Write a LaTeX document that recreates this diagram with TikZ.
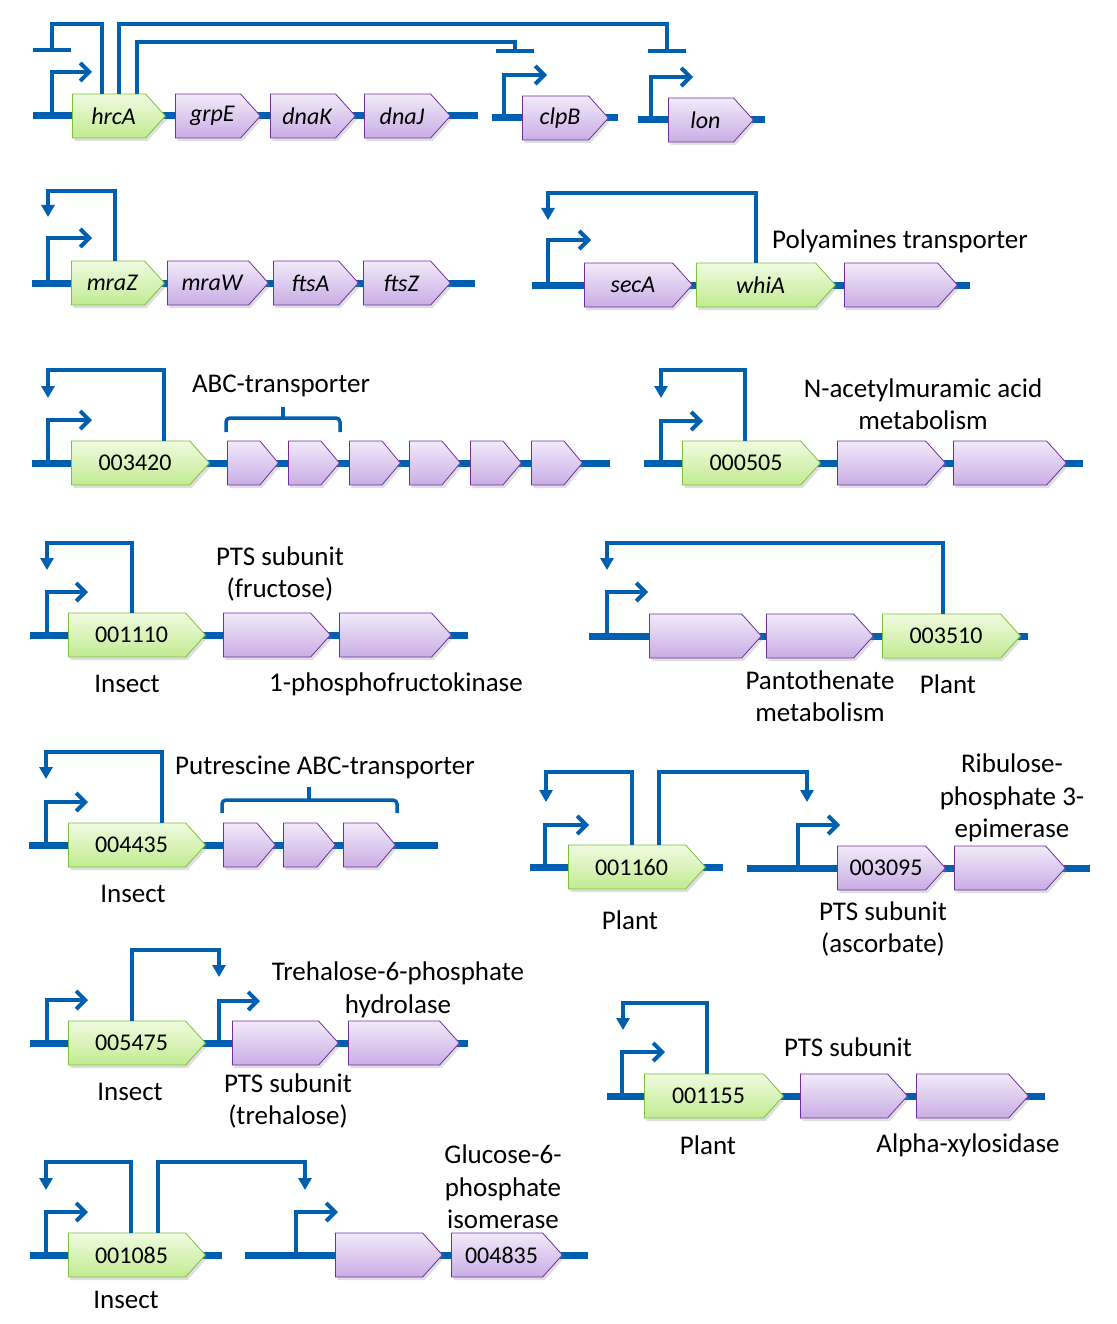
\documentclass[tikz,border=0pt]{standalone}
\usepackage{fontspec}
\setmainfont{Carlito}
\usetikzlibrary{arrows.meta,shapes.symbols,shadows,positioning}
\definecolor{genblue}{RGB}{0,96,175}
\definecolor{gline}{RGB}{125,192,60}
\definecolor{gtop}{RGB}{240,251,224}
\definecolor{gbot}{RGB}{192,235,145}
\definecolor{pline}{RGB}{112,48,160}
\definecolor{ptop}{RGB}{242,234,249}
\definecolor{pbot}{RGB}{201,173,228}
\newcommand{\gnfont}{\fontsize{24}{28}\selectfont}
\newcommand{\txfont}{\fontsize{27}{32.5}\selectfont}

\tikzset{
  dna/.style={line width=7pt, genblue},
  prom/.style={line width=4pt, genblue, -{Straight Barb[length=9pt,width=18pt]}},
  act/.style={line width=4pt, genblue, -{Triangle[length=12pt,width=13pt]}},
  repr/.style={line width=4pt, genblue, -{Bar[width=38pt]}},
  genebrace/.style={line width=3.5pt, genblue, rounded corners=4pt},
  gene/.style={signal, signal to=east, signal pointer angle=96, minimum height=44pt,
    inner sep=0pt, line width=0.8pt, anchor=west, font=\gnfont,
    execute at begin node={\hspace*{9pt}},
    drop shadow={shadow xshift=2pt, shadow yshift=-3pt, opacity=0.25}},
  ggene/.style={gene, draw=gline, top color=gtop, bottom color=gbot},
  pgene/.style={gene, draw=pline, top color=ptop, bottom color=pbot},
  lbl/.style={font=\txfont, align=center}
}

\begin{document}
\begin{tikzpicture}[x=1pt, y=-1pt]
    \useasboundingbox (0,0) rectangle (1116,1324);

    % hrcA operon, clpB and lon
    \draw[dna] (33,116) -- (478,116);
    \draw[dna] (492,118) -- (618,118);
    \draw[dna] (638,120) -- (765,120);
    \node[ggene, minimum width=93] (hrcA) at (72,116) {\textit{hrcA}};
    \node[pgene, minimum width=85] (grpE) at (175,116) {\textit{grpE}};
    \node[pgene, minimum width=85] (dnaK) at (270,116) {\textit{dnaK}};
    \node[pgene, minimum width=86] (dnaJ) at (364,116) {\textit{dnaJ}};
    \node[pgene, minimum width=86] (clpB) at (522,118) {\textit{clpB}};
    \node[pgene, minimum width=85] (lon) at (668,120) {\textit{lon}};
    \draw[prom] (52,116) |- (92,72);
    \draw[prom] (504,118) |- (547,75);
    \draw[prom] (651,120) |- (693,77);
    \coordinate (hrcAbar) at (52,52);
    \coordinate (clpBbar) at (515,53);
    \coordinate (lonbar) at (667,53);
    \draw[repr] ([xshift=30pt]hrcA.north west) -- ++(0,-70) -| (hrcAbar);
    \draw[repr] ([xshift=47pt]hrcA.north west) -- ++(0,-70) -| (lonbar);
    \draw[repr] ([xshift=65pt]hrcA.north west) -- ++(0,-52) -| (clpBbar);

    % mraZ operon
    \draw[dna] (32,283) -- (475,283);
    \node[ggene, minimum width=93] (mraZ) at (71,283) {\textit{mraZ}};
    \node[pgene, minimum width=101] (mraW) at (167,283) {\textit{mraW}};
    \node[pgene, minimum width=85] (ftsA) at (273,283) {\textit{ftsA}};
    \node[pgene, minimum width=87] (ftsZ) at (363,283) {\textit{ftsZ}};
    \draw[prom] (48,283) |- (92,238);
    \coordinate (mraZtgt) at (48,217);
    \draw[act] ([xshift=44pt]mraZ.north west) -- ++(0,-70) -| (mraZtgt);

    % secA - whiA
    \draw[dna] (532,285) -- (970,285);
    \node[pgene, minimum width=108] (secA) at (584,285) {\textit{secA}};
    \node[ggene, minimum width=139] (whiA) at (696,285) {\textit{whiA}};
    \node[pgene, minimum width=113] (polyA) at (844,285) {};
    \draw[prom] (548,285) |- (591,240);
    \coordinate (whiAtgt) at (548,220);
    \draw[act] ([xshift=60pt]whiA.north west) -- ++(0,-70) -| (whiAtgt);
    \node[lbl] (polyAtxt) at (900,241) {Polyamines transporter};

    % 003420 and ABC-transporter
    \draw[dna] (32,463) -- (610,463);
    \node[ggene, minimum width=138] (g003420) at (71,463) {003420};
    \node[pgene, minimum width=51, signal pointer angle=100] (abcA) at (227,463) {};
    \node[pgene, minimum width=51, signal pointer angle=100] (abcB) at (288,463) {};
    \node[pgene, minimum width=51, signal pointer angle=100] (abcC) at (349,463) {};
    \node[pgene, minimum width=51, signal pointer angle=100] (abcD) at (409,463) {};
    \node[pgene, minimum width=51, signal pointer angle=100] (abcE) at (470,463) {};
    \node[pgene, minimum width=51, signal pointer angle=100] (abcF) at (531,463) {};
    \draw[prom] (48,463) |- (92,420);
    \coordinate (g003420tgt) at (48,398);
    \draw[act] ([xshift=93pt]g003420.north west) -- ++(0,-71) -| (g003420tgt);
    \draw[genebrace] (226,432) -- (226,418) -- (340,418) -- (340,432);
    \draw[genebrace] (283,418) -- (283,407);
    \node[lbl] (abctxt) at (281,386) {ABC-transporter};

    % 000505
    \draw[dna] (644,463) -- (1083,463);
    \node[ggene, minimum width=138] (g000505) at (682,463) {000505};
    \node[pgene, minimum width=108] (namA) at (837,463) {};
    \node[pgene, minimum width=113] (namB) at (953,463) {};
    \draw[prom] (661,463) |- (703,421);
    \coordinate (g000505tgt) at (661,398);
    \draw[act] ([xshift=63pt]g000505.north west) -- ++(0,-71) -| (g000505tgt);
    \node[lbl] (namtxt) at (923,404) {N-acetylmuramic acid\\metabolism};

    % 001110
    \draw[dna] (30,635) -- (468,635);
    \node[ggene, minimum width=137] (g001110) at (68,635) {001110};
    \node[pgene, minimum width=107] (ptsF) at (223,635) {};
    \node[pgene, minimum width=112] (pfk) at (339,635) {};
    \draw[prom] (47,635) |- (88,592);
    \coordinate (g001110tgt) at (47,570);
    \draw[act] ([xshift=64pt]g001110.north west) -- ++(0,-70) -| (g001110tgt);
    \node[lbl] (ptsFtxt) at (280,574) {PTS subunit\\(fructose)};
    \node[lbl] (ins1) at (127,684) {Insect};
    \node[lbl] (pfktxt) at (396,684) {1-phosphofructokinase};

    % 003510
    \draw[dna] (589,636) -- (1028,636);
    \node[pgene, minimum width=112] (panA) at (649,636) {};
    \node[pgene, minimum width=107] (panB) at (766,636) {};
    \node[ggene, minimum width=138] (g003510) at (882,636) {003510};
    \draw[prom] (607,636) |- (648,592);
    \coordinate (g003510tgt) at (607,570);
    \draw[act] ([xshift=61pt]g003510.north west) -- ++(0,-71) -| (g003510tgt);
    \node[lbl] (pantxt) at (820,696) {Pantothenate\\metabolism};
    \node[lbl] (plant1) at (948,684) {Plant};

    % 004435 and putrescine transporter
    \draw[dna] (29,845) -- (438,845);
    \node[ggene, minimum width=137] (g004435) at (68,845) {004435};
    \node[pgene, minimum width=52, signal pointer angle=100] (potA) at (223,845) {};
    \node[pgene, minimum width=52, signal pointer angle=100] (potB) at (283,845) {};
    \node[pgene, minimum width=52, signal pointer angle=100] (potC) at (343,845) {};
    \draw[prom] (46,845) |- (88,802);
    \coordinate (g004435tgt) at (46,779);
    \draw[act] ([xshift=94pt]g004435.north west) -- ++(0,-71) -| (g004435tgt);
    \draw[genebrace] (222,813) -- (222,800) -- (397,800) -- (397,813);
    \draw[genebrace] (309,800) -- (309,787);
    \node[lbl] (pottxt) at (325,767) {Putrescine ABC-transporter};
    \node[lbl] (ins2) at (133,894) {Insect};

    % 001160 and 003095
    \draw[dna] (530,867) -- (723,867);
    \draw[dna] (747,868) -- (1090,868);
    \node[ggene, minimum width=137] (g001160) at (568,867) {001160};
    \node[pgene, minimum width=108] (g003095) at (837,868) {003095};
    \node[pgene, minimum width=111] (rpe) at (954,868) {};
    \draw[prom] (545,867) |- (589,825);
    \draw[prom] (798,868) |- (840,825);
    \coordinate (g001160tgt) at (546,802);
    \coordinate (g003095tgt) at (807,802);
    \draw[act] ([xshift=64pt]g001160.north west) -- ++(0,-73) -| (g001160tgt);
    \draw[act] ([xshift=91pt]g001160.north west) -- ++(0,-73) -| (g003095tgt);
    \node[lbl] (rpetxt) at (1012,798) {Ribulose-\\phosphate 3-\\epimerase};
    \node[lbl] (plant2) at (630,920) {Plant};
    \node[lbl] (ptsAtxt) at (883,929) {PTS subunit\\(ascorbate)};

    % 005475
    \draw[dna] (30,1043) -- (468,1043);
    \node[ggene, minimum width=137] (g005475) at (68,1043) {005475};
    \node[pgene, minimum width=106] (ptsT) at (232,1043) {};
    \node[pgene, minimum width=111] (treC) at (348,1043) {};
    \draw[prom] (47,1043) |- (88,1000);
    \draw[prom] (219,1043) |- (260,1001);
    \coordinate (ptsTtgt) at (219,977);
    \draw[act] ([xshift=64pt]g005475.north west) -- ++(0,-71) -| (ptsTtgt);
    \node[lbl] (tretxt) at (398,990) {Trehalose-6-phosphate\\hydrolase};
    \node[lbl] (ins3) at (130,1092) {Insect};
    \node[lbl] (ptsTtxt) at (288,1101) {PTS subunit\\(trehalose)};

    % 001155
    \draw[dna] (607,1096) -- (1045,1096);
    \node[ggene, minimum width=139] (g001155) at (644,1096) {001155};
    \node[pgene, minimum width=107] (ptsX) at (800,1096) {};
    \node[pgene, minimum width=112] (xyl) at (916,1096) {};
    \draw[prom] (622,1096) |- (665,1052);
    \coordinate (g001155tgt) at (623,1030);
    \draw[act] ([xshift=63pt]g001155.north west) -- ++(0,-71) -| (g001155tgt);
    \node[lbl] (ptsXtxt) at (848,1047) {PTS subunit};
    \node[lbl] (plant3) at (708,1145) {Plant};
    \node[lbl] (xyltxt) at (968,1145) {Alpha-xylosidase};

    % 001085 and 004835
    \draw[dna] (30,1255) -- (222,1255);
    \draw[dna] (245,1255) -- (588,1255);
    \node[ggene, minimum width=137] (g001085) at (68,1255) {001085};
    \node[pgene, minimum width=107] (pgiA) at (335,1255) {};
    \node[pgene, minimum width=111] (g004835) at (451,1255) {004835};
    \draw[prom] (46,1255) |- (88,1212);
    \draw[prom] (296,1255) |- (338,1212);
    \coordinate (g001085tgt) at (46,1190);
    \coordinate (pgiAtgt) at (305,1190);
    \draw[act] ([xshift=63pt]g001085.north west) -- ++(0,-71) -| (g001085tgt);
    \draw[act] ([xshift=90pt]g001085.north west) -- ++(0,-71) -| (pgiAtgt);
    \node[lbl] (pgitxt) at (503,1187) {Glucose-6-\\phosphate\\isomerase};
    \node[lbl] (ins4) at (126,1300) {Insect};
\end{tikzpicture}
\end{document}
